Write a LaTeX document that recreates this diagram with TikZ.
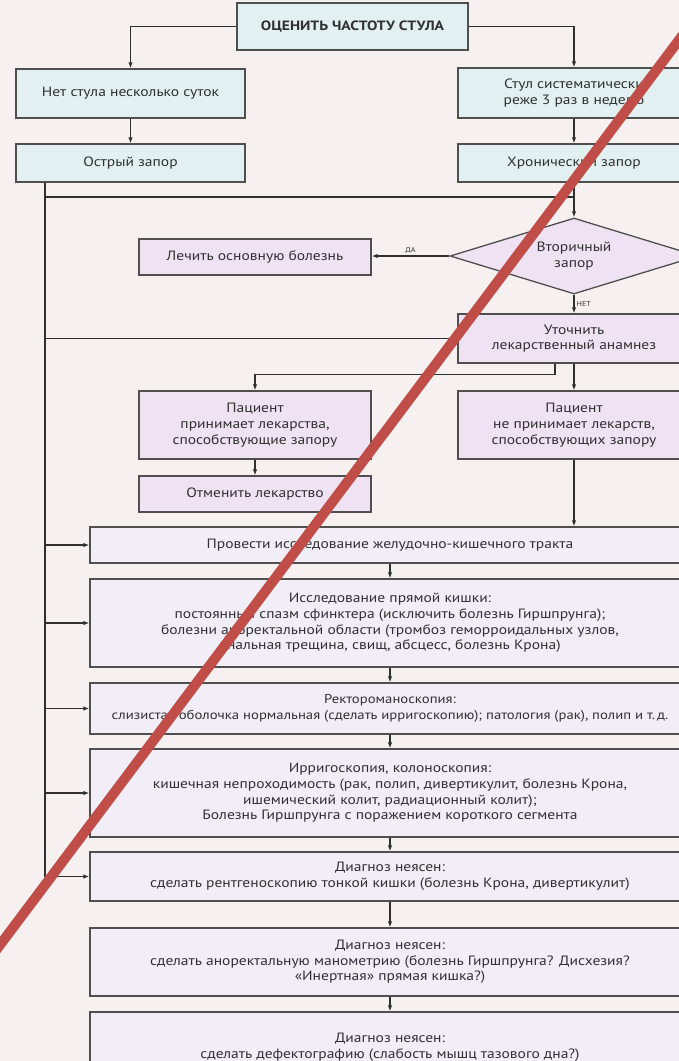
\documentclass[tikz,border=0pt]{standalone}
\usepackage{fontspec}
\setmainfont{PT Sans}[FakeStretch=1.15]
\usetikzlibrary{shapes.geometric,arrows.meta}
\def\sheet{(0,0) rectangle (679,1061)}
\definecolor{paper}{RGB}{247,240,240}
\definecolor{ink}{RGB}{48,48,48}
\definecolor{aqua}{RGB}{226,240,241}
\definecolor{lilac}{RGB}{238,226,243}
\definecolor{pale}{RGB}{241,238,247}
\definecolor{slash}{RGB}{193,77,72}
\colorlet{box edge}{ink!85}
\tikzset{box/.style={draw=box edge, line width=1.3pt, align=center, text=ink,
		font=\fontsize{13.5}{15.7}\selectfont, inner sep=2pt},
	topbox/.style={box, fill=aqua},
	midbox/.style={box, fill=lilac},
	lowbox/.style={box, fill=pale, minimum width=600pt},
	decision/.style={box, diamond, fill=lilac, aspect=3.26, inner sep=0pt},
	link/.style={draw=ink, line width=1.2pt, -{Latex[length=6pt,width=4.5pt]}},
	bus line/.style={draw=ink, line width=1.2pt},
	tag/.style={font=\fontsize{7}{8}\selectfont, text=ink, inner sep=2pt},
	redline/.style={draw=slash, line width=10pt}}

\begin{document}
\begin{tikzpicture}[x=1pt,y=-1pt]
		\clip \sheet;
		\fill[paper] \sheet;
		\node[topbox, minimum width=231pt, minimum height=47pt, font=\fontsize{13.5}{15.7}\selectfont\bfseries] (ocenka) at (352.5,26.5) {ОЦЕНИТЬ ЧАСТОТУ СТУЛА};
		\node[topbox, minimum width=229pt, minimum height=49pt] (netstula) at (130.5,93.5) {Нет стула несколько суток};
		\node[topbox, minimum width=229pt, minimum height=38pt] (ostryi) at (130.5,163) {Острый запор};
		\node[topbox, minimum width=232pt, minimum height=50pt] (stul) at (574,93) {Стул систематически\\реже 3 раз в неделю};
		\node[topbox, minimum width=232pt, minimum height=38pt] (hron) at (574,163) {Хронический запор};
		\node[decision, minimum width=248pt, minimum height=76pt] (vtorich) at (574,256) {Вторичный\\запор};
		\node[midbox, minimum width=232pt, minimum height=36pt] (lechit) at (255,257) {Лечить основную болезнь};
		\node[midbox, minimum width=232pt, minimum height=49pt] (utochnit) at (574,338.5) {Уточнить\\лекарственный анамнез};
		\node[midbox, minimum width=232pt, minimum height=68pt] (prinimaet) at (255,425) {Пациент\\принимает лекарства,\\способствующие запору};
		\node[midbox, minimum width=232pt, minimum height=68pt] (neprinim) at (574,425) {Пациент\\не принимает лекарств,\\способствующих запору};
		\node[midbox, minimum width=232pt, minimum height=36pt] (otmenit) at (255,494) {Отменить лекарство};
		\node[lowbox, minimum height=36pt] (provesti) at (390,545) {Провести исследование желудочно-кишечного тракта};
		\node[lowbox, minimum height=88pt] (pryamaya) at (390,623) {Исследование прямой кишки:\\постоянный спазм сфинктера (исключить болезнь Гиршпрунга);\\болезни аноректальной области (тромбоз геморроидальных узлов,\\анальная трещина, свищ, абсцесс, болезнь Крона)};
		\node[lowbox, minimum height=51pt, font=\fontsize{12.8}{15.7}\selectfont] (rektoro) at (390,708.5) {Ректороманоскопия:\\слизистая оболочка нормальная (сделать ирригоскопию); патология (рак), полип и т.\,д.};
		\node[lowbox, minimum height=88pt] (irrigo) at (390,793) {Ирригоскопия, колоноскопия:\\кишечная непроходимость (рак, полип, дивертикулит, болезнь Крона,\\ишемический колит, радиационный колит);\\Болезнь Гиршпрунга с поражением короткого сегмента};
		\node[lowbox, minimum height=49pt] (diag1) at (390,876.5) {Диагноз неясен:\\сделать рентгеноскопию тонкой кишки (болезнь Крона, дивертикулит)};
		\node[lowbox, minimum height=68pt] (diag2) at (390,962) {Диагноз неясен:\\сделать аноректальную манометрию (болезнь Гиршпрунга? Дисхезия?\\«Инертная» прямая кишка?)};
		\node[lowbox, minimum height=70pt] (diag3) at (390,1047) {Диагноз неясен:\\сделать дефектографию (слабость мышц тазового дна?)};
		\coordinate (bus) at (45,0);
		\coordinate (fork) at (574,197);
		\draw[link] (ocenka.west) -| (netstula.north);
		\draw[link] (ocenka.east) -| (stul.north);
		\draw[link] (netstula) -- (ostryi);
		\draw[link] (stul) -- (hron);
		\draw[link] (hron) -- (vtorich);
		\draw[link] (vtorich.west) -- node[tag, above] {ДА} (vtorich.west -| lechit.east);
		\draw[link] (vtorich) -- node[tag, right] {НЕТ} (utochnit);
		\draw[link] (utochnit) -- (neprinim);
		\draw[link] ([xshift=-19pt]utochnit.south) -- ++(0,11) -| (prinimaet.north);
		\draw[link] (prinimaet) -- (otmenit);
		\draw[link] (neprinim.south) -- (neprinim.south |- provesti.north);
		\foreach \a/\b in {provesti/pryamaya, pryamaya/rektoro, rektoro/irrigo, irrigo/diag1, diag1/diag2, diag2/diag3}
			\draw[link] (\a) -- (\b);
		\draw[bus line] (ostryi.south -| bus) -- (bus |- diag1.west);
		\draw[bus line] (bus |- fork) -- (fork);
		\draw[link] (bus |- utochnit.west) -- (utochnit.west);
		\foreach \n in {provesti, pryamaya, rektoro, irrigo, diag1}
			\draw[link] (bus |- \n.west) -- (\n.west);
		\draw[redline] (-10,958.3) -- (690,25.3);
\end{tikzpicture}
\end{document}
